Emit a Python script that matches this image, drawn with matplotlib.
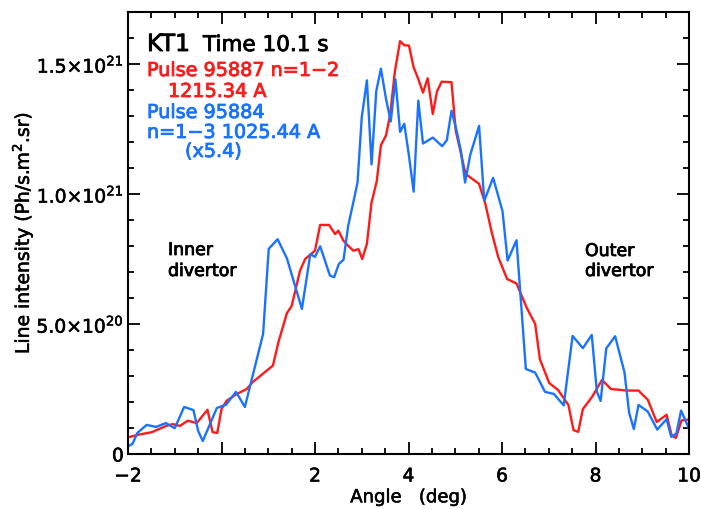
import matplotlib
matplotlib.use("Agg")
import matplotlib.pyplot as plt
import matplotlib.patheffects as pe
from matplotlib.ticker import MultipleLocator

# angle (deg) and line intensity (units of 1e20 Ph/s.m^2.sr)
red_x = [-2.00, -1.81, -1.49, -1.17, -1.04, -0.89, -0.72, -0.53, -0.30, -0.19,
         -0.09, 0.00, 0.11, 0.33, 0.54, 0.67, 1.10, 1.22, 1.40, 1.50,
         1.68, 1.79, 2.00, 2.11, 2.30, 2.43, 2.50, 2.61, 2.71, 2.82,
         2.93, 3.01, 3.11, 3.21, 3.32, 3.41, 3.52, 3.61, 3.71, 3.82,
         3.91, 4.01, 4.11, 4.21, 4.31, 4.41, 4.52, 4.61, 4.71, 4.92,
         5.01, 5.10, 5.22, 5.32, 5.51, 5.64, 5.78, 5.92, 6.11, 6.31,
         6.53, 6.71, 6.81, 7.01, 7.20, 7.42, 7.53, 7.63, 7.73, 7.92,
         8.14, 8.33, 8.67, 8.92, 9.12, 9.31, 9.52, 9.63, 9.72, 9.84, 10.02]
red_y = [0.64, 0.73, 0.84, 1.09, 1.15, 1.08, 1.28, 1.19, 1.70, 0.84,
         0.81, 1.73, 2.05, 2.31, 2.50, 2.77, 3.40, 4.32, 5.42, 5.69,
         7.05, 7.50, 7.82, 8.81, 8.81, 8.46, 8.59, 8.20, 8.01, 7.82,
         7.88, 7.50, 8.08, 9.68, 10.48, 11.87, 12.26, 13.08, 14.73, 15.88,
         15.72, 15.71, 14.87, 14.42, 13.90, 14.45, 13.08, 13.95, 14.32, 14.30,
         12.44, 11.73, 10.77, 10.64, 10.39, 9.65, 8.53, 7.57, 6.73, 6.56,
         5.62, 5.00, 3.65, 2.73, 2.46, 1.89, 0.92, 0.85, 1.73, 2.18,
         2.85, 2.50, 2.44, 2.44, 2.08, 1.23, 1.51, 0.71, 0.62, 1.29, 1.33]

blue_x = [-2.00, -1.90, -1.80, -1.60, -1.40, -1.19, -1.00, -0.80, -0.60, -0.50,
          -0.40, -0.10, 0.10, 0.31, 0.50, 0.89, 1.01, 1.20, 1.40, 1.72,
          1.90, 2.00, 2.11, 2.32, 2.41, 2.51, 2.61, 2.71, 2.82, 2.91,
          3.00, 3.11, 3.21, 3.31, 3.41, 3.52, 3.62, 3.72, 3.82, 3.91,
          4.01, 4.11, 4.21, 4.31, 4.52, 4.72, 4.82, 4.92, 5.02, 5.12,
          5.21, 5.32, 5.51, 5.62, 5.81, 6.01, 6.12, 6.31, 6.51, 6.71,
          6.92, 7.11, 7.32, 7.51, 7.73, 7.92, 8.03, 8.11, 8.23, 8.42,
          8.62, 8.72, 8.82, 8.92, 9.12, 9.32, 9.52, 9.62, 9.73, 9.83, 10.02]
blue_y = [0.29, 0.40, 0.81, 1.12, 1.04, 1.19, 0.99, 1.81, 1.69, 0.89,
          0.50, 1.77, 1.90, 2.39, 1.81, 4.62, 7.89, 8.26, 7.52, 5.58,
          7.69, 7.58, 7.99, 6.86, 6.80, 7.31, 7.47, 8.78, 9.68, 10.45,
          12.95, 14.37, 11.14, 13.95, 14.82, 13.65, 12.79, 14.41, 12.39, 12.70,
          11.47, 10.09, 13.59, 11.94, 12.17, 11.84, 12.07, 13.20, 12.50, 11.67,
          10.44, 11.50, 12.62, 9.74, 10.62, 9.35, 7.44, 8.22, 3.27, 3.13,
          2.39, 2.31, 1.87, 4.54, 4.07, 4.58, 2.39, 2.04, 4.06, 4.53,
          3.14, 1.58, 0.96, 1.89, 1.63, 0.94, 1.34, 0.66, 0.79, 1.67, 0.90]

x_ticks = [-2, 0, 2, 4, 6, 8, 10]
x_ticklabels = ["\u22122", "", "2", "4", "6", "8", "10"]
y_ticks = [0, 5e20, 1e21, 1.5e21]
y_ticklabels = ["0", "5.0\u00d710$^{20}$", "1.0\u00d710$^{21}$", "1.5\u00d710$^{21}$"]

RED = "#ff1a1a"
BLUE = "#1a73ff"

plt.rcParams["font.family"] = "DejaVu Sans"

fig = plt.figure(figsize=(7.01, 5.10), dpi=100)
ax = fig.add_axes([128 / 701, 1 - 455 / 510, (689 - 128) / 701, (455 - 13) / 510])

ax.plot(red_x, [v * 1e20 for v in red_y], color=RED, lw=1.7)
ax.plot(blue_x, [v * 1e20 for v in blue_y], color=BLUE, lw=1.7)

ax.set_xlim(-2, 10)
ax.set_ylim(0, 1.7e21)
ax.set_xticks(x_ticks)
ax.set_xticklabels(x_ticklabels)
ax.set_yticks(y_ticks)
ax.set_yticklabels(y_ticklabels)
ax.xaxis.set_minor_locator(MultipleLocator(0.5))
ax.yaxis.set_minor_locator(MultipleLocator(1e20))
ax.tick_params(which="both", direction="in", top=True, right=True, width=1.3,
               labelsize=13.5)
ax.tick_params(which="major", length=8.5)
ax.tick_params(axis="x", which="major", pad=9)
ax.tick_params(axis="y", which="major", pad=3)
ax.tick_params(which="minor", length=4.5)
for s in ax.spines.values():
    s.set_linewidth(1.5)

ax.set_xlabel("Angle   (deg)", fontsize=13, labelpad=2)
ax.set_ylabel("Line intensity (Ph/s.m$^2$.sr)", fontsize=13.5, labelpad=1)

thick = [pe.withStroke(linewidth=0.4, foreground="black")]
for t in ax.get_xticklabels() + ax.get_yticklabels() + [ax.xaxis.label, ax.yaxis.label]:
    t.set_path_effects(thick)


def put(px, py, s, color="black", **kw):
    # place text by pixel position of its left baseline
    fig.text(px / 701, 1 - py / 510, s, va="baseline", ha="left", color=color,
             path_effects=[pe.withStroke(linewidth=0.6, foreground=color)], **kw)


put(147, 52, "KT1", fontsize=17)
put(203, 52, "Time 10.1 s", fontsize=15.5)
put(147, 77, "Pulse 95887 n=1\u22122", fontsize=13.8, color=RED)
put(168, 98, "1215.34 A", fontsize=13.8, color=RED)
put(147, 119, "Pulse 95884", fontsize=13.8, color=BLUE)
put(147, 139, "n=1\u22123 1025.44 A", fontsize=13.8, color=BLUE)
put(185, 158, "(x5.4)", fontsize=13.8, color=BLUE)
put(168, 256, "Inner", fontsize=12.5)
put(168, 277, "divertor", fontsize=12.5)
put(585, 257, "Outer", fontsize=12.5)
put(585, 277, "divertor", fontsize=12.5)

fig.savefig("out.png", dpi=100)
